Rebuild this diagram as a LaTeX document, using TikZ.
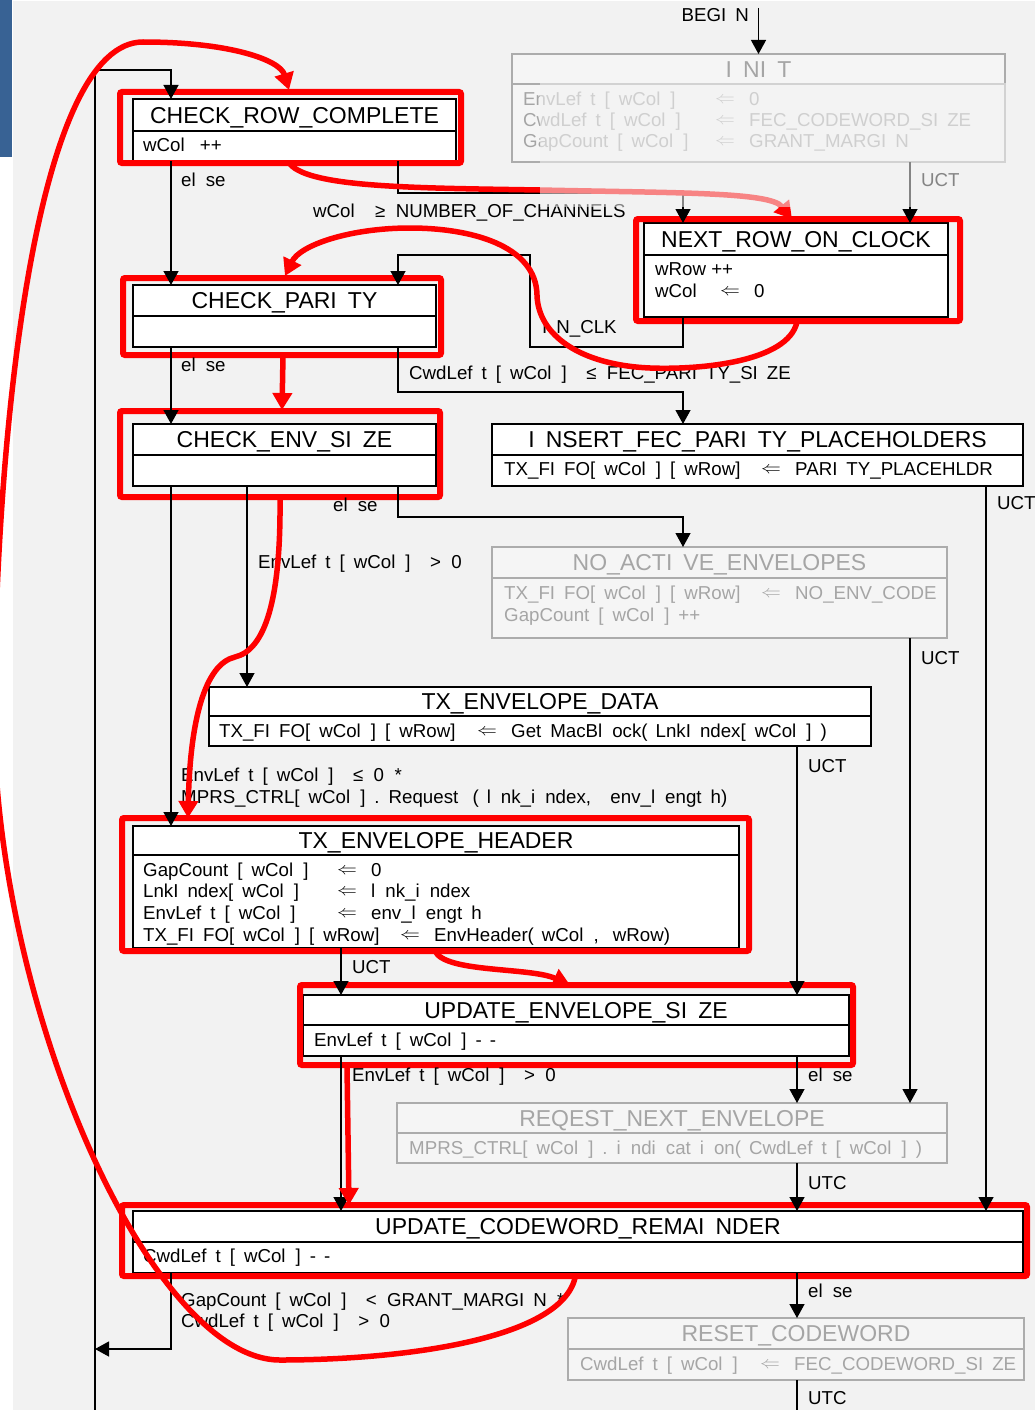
\documentclass[tikz,border=0pt]{standalone}
\usepackage{fontspec}
\usepackage{graphicx}
\setmainfont{Liberation Sans}
\usetikzlibrary{arrows.meta}
\definecolor{bgc}{RGB}{242,242,242}
\definecolor{bluebar}{RGB}{56,98,148}
\definecolor{gline}{RGB}{172,172,172}
\definecolor{intext}{RGB}{165,165,165}
\definecolor{infill}{RGB}{245,245,245}
\definecolor{hl}{RGB}{255,0,0}
\newcommand\ttlsz{\fontsize{23}{26}\selectfont}
\newcommand\bodysz{\fontsize{18.7}{21}\selectfont}
\makeatletter
\newcommand\wtext[1]{\@tfor\wt@c:=#1\do{\expandafter\in@\expandafter{\wt@c}{tfliI[](),.-}\ifin@\def\wt@out{\makebox[0.76em][l]{\wt@c}}\else\let\wt@out\wt@c\fi\wt@out}}
\makeatother
\newcommand\larr{\raisebox{2.2pt}{\scalebox{1.15}[1]{\fontsize{17.28}{18}\selectfont$\Leftarrow$}}}
\newcommand\asg[3]{\makebox[#1][l]{\wtext{#2}}\makebox[34pt][l]{\larr}\wtext{#3}}
\begin{document}
\begin{tikzpicture}[x=1pt,y=-1pt,
  abox/.style={draw=black,line width=1.5pt,fill=white,inner sep=0pt,outer sep=0pt,anchor=north west},
  gbox/.style={draw=gline,line width=1.5pt,fill=infill,inner sep=0pt,outer sep=0pt,anchor=north west},
  adiv/.style={draw=black,line width=1.5pt},
  gdiv/.style={draw=gline,line width=1.5pt},
  ttl/.style={font=\ttlsz,inner sep=0pt,text height=16.5pt,text depth=0pt,anchor=center},
  ttlg/.style={ttl,text=intext},
  bt/.style={font=\bodysz,inner sep=0pt,text height=13.4pt,text depth=0pt,anchor=west},
  btg/.style={bt,text=intext},
  lab/.style={bt},
  conn/.style={draw=black,line width=1.3pt},
  arr/.style={conn,-{Triangle[width=15pt,length=14pt]}},
  hlbox/.style={draw=hl,line width=6pt,rounded corners=2pt,inner sep=0pt,outer sep=0pt,anchor=north west},
  hlarr/.style={draw=hl,line width=5.5pt,line cap=round,-{Triangle[width=19pt,length=17pt]}},
]
% background
\fill[white] (0,0) rectangle (1035,1410);
\fill[bgc] (13,1) rectangle (1035,1410);
\fill[bluebar] (0,0) rectangle (12,157);
\useasboundingbox (0,0) rectangle (1035,1410);

% column coordinates
\coordinate (c171) at (171,0);
\coordinate (c247) at (247,0);
\coordinate (c341) at (341,0);
\coordinate (c398) at (398,0);
\coordinate (c683) at (683,0);
\coordinate (c797) at (797,0);
\coordinate (c910) at (910,0);
\coordinate (c986) at (986,0);

% ---------- states ----------
\node[gbox,minimum width=493pt,minimum height=108pt] (init) at (512,54) {};
\draw[gdiv] (init.north west) ++(0,30) -- ++(493,0);
\node[ttlg] (init-t) at (758.5,69) {\wtext{INIT}};
\node[btg] (init-b1) at (523,99) {\asg{192pt}{EnvLeft[wCol]}{0}};
\node[btg] (init-b2) at (523,120) {\asg{192pt}{CwdLeft[wCol]}{FEC\_CODEWORD\_SIZE}};
\node[btg] (init-b3) at (523,141) {\asg{192pt}{GapCount[wCol]}{GRANT\_MARGIN}};

\node[abox,minimum width=323pt,minimum height=62pt] (crc) at (133,99) {};
\draw[adiv] (crc.north west) ++(0,32) -- ++(323,0);
\node[ttl] (crc-t) at (294.5,115) {\wtext{CHECK\_ROW\_COMPLETE}};
\node[bt] (crc-b1) at (143,145) {\wtext{wCol~++}};

\node[abox,minimum width=304pt,minimum height=94pt] (nroc) at (644,223) {};
\draw[adiv] (nroc.north west) ++(0,32) -- ++(304,0);
\node[ttl] (nroc-t) at (796,239) {\wtext{NEXT\_ROW\_ON\_CLOCK}};
\node[bt] (nroc-b1) at (655,269) {\wtext{wRow~++}};
\node[bt] (nroc-b2) at (655,291) {\asg{65pt}{wCol}{0}};

\node[abox,minimum width=303pt,minimum height=62pt] (cpar) at (133,285) {};
\draw[adiv] (cpar.north west) ++(0,31) -- ++(303,0);
\node[ttl] (cpar-t) at (284.5,300.5) {\wtext{CHECK\_PARITY}};

\node[abox,minimum width=303pt,minimum height=62pt] (cenv) at (133,424) {};
\draw[adiv] (cenv.north west) ++(0,31) -- ++(303,0);
\node[ttl] (cenv-t) at (284.5,439.5) {\wtext{CHECK\_ENV\_SIZE}};

\node[abox,minimum width=531pt,minimum height=62pt] (ifpp) at (492,424) {};
\draw[adiv] (ifpp.north west) ++(0,31) -- ++(531,0);
\node[ttl] (ifpp-t) at (757.5,439.5) {\wtext{INSERT\_FEC\_PARITY\_PLACEHOLDERS}};
\node[bt] (ifpp-b1) at (504,469) {\asg{257pt}{TX\_FIFO[wCol][wRow]}{PARITY\_PLACEHLDR}};

\node[gbox,minimum width=455pt,minimum height=91pt] (nae) at (492,547) {};
\draw[gdiv] (nae.north west) ++(0,31) -- ++(455,0);
\node[ttlg] (nae-t) at (719.5,562.5) {\wtext{NO\_ACTIVE\_ENVELOPES}};
\node[btg] (nae-b1) at (504,593) {\asg{257pt}{TX\_FIFO[wCol][wRow]}{NO\_ENV\_CODE}};
\node[btg] (nae-b2) at (504,614.5) {\wtext{GapCount[wCol]++}};

\node[abox,minimum width=662pt,minimum height=59pt] (ted) at (209,687) {};
\draw[adiv] (ted.north west) ++(0,29) -- ++(662,0);
\node[ttl] (ted-t) at (540,701.5) {\wtext{TX\_ENVELOPE\_DATA}};
\node[bt] (ted-b1) at (219,731) {\asg{258pt}{TX\_FIFO[wCol][wRow]}{GetMacBlock(LnkIndex[wCol])}};

\node[abox,minimum width=606pt,minimum height=122pt] (teh) at (133,826) {};
\draw[adiv] (teh.north west) ++(0,29) -- ++(606,0);
\node[ttl] (teh-t) at (436,840.5) {\wtext{TX\_ENVELOPE\_HEADER}};
\node[bt] (teh-b1) at (143,869.5) {\asg{194pt}{GapCount[wCol]}{0}};
\node[bt] (teh-b2) at (143,891) {\asg{194pt}{LnkIndex[wCol]}{lnk\_index}};
\node[bt] (teh-b3) at (143,912.5) {\asg{194pt}{EnvLeft[wCol]}{env\_length}};
\node[bt] (teh-b4) at (143,934.5) {\asg{257pt}{TX\_FIFO[wCol][wRow]}{EnvHeader(wCol,~wRow)}};

\node[abox,minimum width=546pt,minimum height=61pt] (ues) at (303,995) {};
\draw[adiv] (ues.north west) ++(0,30) -- ++(546,0);
\node[ttl] (ues-t) at (576,1010) {\wtext{UPDATE\_ENVELOPE\_SIZE}};
\node[bt] (ues-b1) at (314,1040) {\wtext{EnvLeft[wCol]--}};

\node[gbox,minimum width=550pt,minimum height=60pt] (rne) at (397,1103) {};
\draw[gdiv] (rne.north west) ++(0,30) -- ++(550,0);
\node[ttlg] (rne-t) at (672,1118) {\wtext{REQEST\_NEXT\_ENVELOPE}};
\node[btg] (rne-b1) at (409,1148) {\wtext{MPRS\_CTRL[wCol].indication(CwdLeft[wCol])}};

\node[abox,minimum width=890pt,minimum height=62pt] (ucr) at (133,1211) {};
\draw[adiv] (ucr.north west) ++(0,31) -- ++(890,0);
\node[ttl] (ucr-t) at (578,1226.5) {\wtext{UPDATE\_CODEWORD\_REMAINDER}};
\node[bt] (ucr-b1) at (143,1256) {\wtext{CwdLeft[wCol]--}};

\node[gbox,minimum width=456pt,minimum height=62pt] (rcw) at (568,1318) {};
\draw[gdiv] (rcw.north west) ++(0,31) -- ++(456,0);
\node[ttlg] (rcw-t) at (796,1333.5) {\wtext{RESET\_CODEWORD}};
\node[btg] (rcw-b1) at (580,1364) {\asg{180pt}{CwdLeft[wCol]}{FEC\_CODEWORD\_SIZE}};

% ---------- red highlight boxes ----------
\node[hlbox,minimum width=341pt,minimum height=71pt] (h-crc) at (120,92) {};
\node[hlbox,minimum width=324pt,minimum height=102pt] (h-nroc) at (636,219) {};
\node[hlbox,minimum width=318pt,minimum height=77pt] (h-cpar) at (123,278) {};
\node[hlbox,minimum width=320pt,minimum height=86pt] (h-cenv) at (120,411) {};
\node[hlbox,minimum width=627pt,minimum height=133pt] (h-teh) at (122,818) {};
\node[hlbox,minimum width=553pt,minimum height=80pt] (h-ues) at (300,985) {};
\node[hlbox,minimum width=905pt,minimum height=71pt] (h-ucr) at (122,1205) {};

% ---------- connectors ----------
\coordinate (bgn) at (758.5,8);
\coordinate (ltop) at (95,70);
\coordinate (lbot) at (95,1410);
\coordinate (lmid) at (95,1349);
\coordinate (j1) at (683,193);
\coordinate (j2) at (530,347);
\coordinate (j3) at (398,255);
\coordinate (j4) at (683,392);
\coordinate (j5) at (683,517);
\coordinate (rout) at (797,1410);

\draw[arr] (bgn) -- (init.north);
\draw[arr] (lbot) -- (ltop) -| (crc.north -| c171);
\draw[arr] (crc.south -| c171) -- (cpar.north -| c171);
\draw[arr] (crc.south -| c398) |- (j1) -- (nroc.north -| j1);
\draw[arr] (init.south -| c910) -- (nroc.north -| c910);
\draw[arr] (nroc.south -| c683) |- (j2) |- (j3) -- (cpar.north -| j3);
\draw[arr] (cpar.south -| c171) -- (cenv.north -| c171);
\draw[arr] (cpar.south -| c398) |- (j4) -- (ifpp.north -| j4);
\draw[arr] (cenv.south -| c171) -- (teh.north -| c171);
\draw[arr] (cenv.south -| c247) -- (ted.north -| c247);
\draw[arr] (cenv.south -| c398) |- (j5) -- (nae.north -| j5);
\draw[arr] (ifpp.south -| c986) -- (ucr.north -| c986);
\draw[arr] (nae.south -| c910) -- (rne.north -| c910);
\draw[arr] (ted.south -| c797) -- (ues.north -| c797);
\draw[arr] (teh.south -| c341) -- (ues.north -| c341);
\draw[arr] (ues.south -| c341) -- (ucr.north -| c341);
\draw[arr] (ues.south -| c797) -- (rne.north -| c797);
\draw[arr] (rne.south -| c797) -- (ucr.north -| c797);
\draw[arr] (ucr.south -| c171) |- (lmid);
\draw[arr] (ucr.south -| c797) -- (rcw.north -| c797);
\draw[conn] (rcw.south -| c797) -- (rout);

% ---------- labels ----------
\node[lab,anchor=east] (l-begin) at (749,15) {\wtext{BEGIN}};
\node[lab] (l1) at (181,180) {\wtext{else}};
\node[lab] (l2) at (313,211) {\wtext{wCol~~≥~~NUMBER\_OF\_CHANNELS}};
\node[lab] (l3) at (921,180) {\wtext{UCT}};
\node[lab] (l4) at (542,327) {\wtext{IN\_CLK}};
\node[lab] (l5) at (181,365) {\wtext{else}};
\node[lab] (l6) at (409,373) {\wtext{CwdLeft[wCol]~~≤~~FEC\_PARITY\_SIZE}};
\node[lab] (l7) at (997,503) {\wtext{UCT}};
\node[lab] (l8) at (333,505) {\wtext{else}};
\node[lab] (l9) at (258,562) {\wtext{EnvLeft[wCol]~~>~~0}};
\node[lab] (l10) at (921,658) {\wtext{UCT}};
\node[lab] (l11) at (808,766) {\wtext{UCT}};
\node[lab] (l12) at (181,775) {\wtext{EnvLeft[wCol]~~≤~~0~~*}};
\node[lab] (l13) at (181,797) {\wtext{MPRS\_CTRL[wCol].Request~(lnk\_index,~~env\_length)}};
\node[lab] (l14) at (352,967) {\wtext{UCT}};
\node[lab] (l15) at (352,1075) {\wtext{EnvLeft[wCol]~~>~~0}};
\node[lab] (l16) at (808,1075) {\wtext{else}};
\node[lab] (l17) at (808,1183) {\wtext{UTC}};
\node[lab] (l18) at (808,1291) {\wtext{else}};
\node[lab] (l19) at (181,1299.5) {\wtext{GapCount[wCol]~~<~~GRANT\_MARGIN~~*}};
\node[lab] (l20) at (181,1321) {\wtext{CwdLeft[wCol]~~>~~0}};
\node[lab] (l21) at (808,1398) {\wtext{UTC}};

% ---------- red annotation arrows ----------
\coordinate (r1a) at (575,1278);
\coordinate (r1b) at (289,90);
\coordinate (r2a) at (290,164);
\coordinate (r2b) at (792,219);
\coordinate (r3a) at (797,322);
\coordinate (r3b) at (285,276);
\coordinate (r4a) at (283,356);
\coordinate (r4b) at (282,410);
\coordinate (r5a) at (280,498);
\coordinate (r5b) at (188,818);
\coordinate (r6a) at (435,951);
\coordinate (r6b) at (570,985);
\coordinate (r7a) at (347,1066);
\coordinate (r7b) at (349,1205);

\draw[hlarr] (r1a) .. controls (560,1340) and (400,1360) .. (280,1360)
  .. controls (150,1360) and (-10,1000) .. (-6,700)
  .. controls (-2,400) and (40,42) .. (143,42)
  .. controls (230,42) and (280,60) .. (r1b);
\draw[hlarr] (r2a) .. controls (310,188) and (420,188) .. (540,190)
  .. controls (680,193) and (770,192) .. (r2b);
\draw[hlarr] (r3a) .. controls (788,362) and (700,370) .. (650,368)
  .. controls (580,365) and (538,335) .. (537,295)
  .. controls (536,245) and (470,228) .. (410,228)
  .. controls (350,228) and (300,245) .. (r3b);
\draw[hlarr] (r4a) -- (r4b);
\draw[hlarr] (r5a) .. controls (281,600) and (265,650) .. (235,657)
  .. controls (205,664) and (190,720) .. (r5b);
\draw[hlarr] (r6a) .. controls (445,973) and (530,967) .. (r6b);
\draw[hlarr] (r7a) -- (r7b);

% ---------- translucent veil ----------
\fill[bgc,fill opacity=0.55] (540,83) rectangle (1010,207);
\end{tikzpicture}
\end{document}
